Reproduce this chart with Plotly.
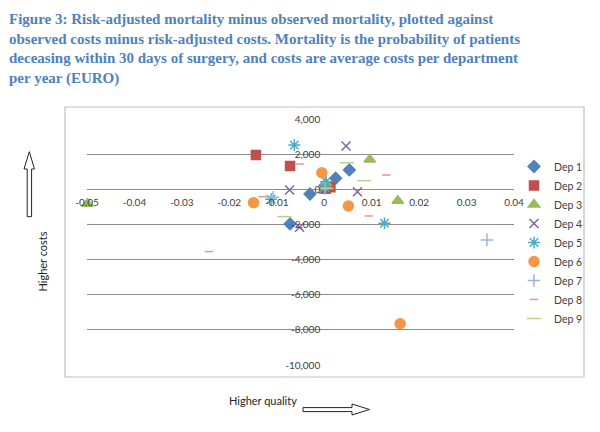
import plotly.graph_objects as go

# Risk-adjusted minus observed mortality (x) vs observed minus risk-adjusted costs (y)
departments = ["Dep 1", "Dep 2", "Dep 3", "Dep 4", "Dep 5", "Dep 6", "Dep 7", "Dep 8", "Dep 9"]

dep1_x = [0.0053, 0.0024, -0.0030, -0.0072, 0.0005]
dep1_y = [1100, 630, -270, -1970, 150]
dep2_x = [-0.0144, -0.0072, 0.0013, 0.0003]
dep2_y = [1950, 1320, 120, 30]
dep3_x = [-0.0499, 0.0096, 0.0155, 0.0003]
dep3_y = [-820, 1700, -650, 350]
dep4_x = [0.0046, 0.0070, -0.0073, -0.0052, -0.0002]
dep4_y = [2460, -140, -40, -2160, 20]
dep5_x = [-0.0063, -0.0112, 0.0127, 0.0004, 0.0001]
dep5_y = [2520, -570, -1930, 430, 100]
dep6_x = [-0.0149, -0.0005, 0.0051, 0.0160]
dep6_y = [-760, 940, -950, -7650]
dep7_x = [0.0343, -0.0108, 0.0002]
dep7_y = [-2880, -450, 50]
dep8_x = [-0.0243, -0.0052, -0.0130, 0.0131, 0.0094]
dep8_y = [-3545, 1440, -420, 810, -1520]
dep9_x = [0.0048, 0.0084, -0.0084, 0.0005]
dep9_y = [1510, 490, -1555, 50]

x_ticks = [-0.05, -0.04, -0.03, -0.02, -0.01, 0, 0.01, 0.02, 0.03, 0.04]
x_tick_text = ["-0.05", "-0.04", "-0.03", "-0.02", "-0.01", "0", "0.01", "0.02", "0.03", "0.04"]
y_ticks = [-10000, -8000, -6000, -4000, -2000, 0, 2000, 4000]
y_tick_text = ["-10,000", "-8,000", "-6,000", "-4,000", "-2,000", "0", "2,000", "4,000"]

xs = [dep1_x, dep2_x, dep3_x, dep4_x, dep5_x, dep6_x, dep7_x, dep8_x, dep9_x]
ys = [dep1_y, dep2_y, dep3_y, dep4_y, dep5_y, dep6_y, dep7_y, dep8_y, dep9_y]

colors = ["#4F81BD", "#C0504D", "#9BBB59", "#8064A2", "#4BACC6", "#F79646",
          "#9DB5DC", "#E09A98", "#B7D28A"]
symbols = ["diamond", "square", "triangle-up", "x-thin-open", "asterisk-open", "circle",
           "cross-thin-open", "line-ew-open", "line-ew-open"]
sizes = [9, 9, 10, 9, 10, 10, 9, 6, 10]

# the page body adds an 8px margin, so the figure is offset in the screenshot
OFF = 8
W, H = 600 - OFF, 432 - OFF
# plot area in screenshot pixels
L, R, T, B = 87, 514, 119, 365


def px(x):
    return (x - L) / (R - L)


def py(y):
    return (B - y) / (B - T)


fig = go.Figure()
for name, x, y, c, s, sz in zip(departments, xs, ys, colors, symbols, sizes):
    fig.add_trace(go.Scatter(
        x=x, y=y, mode="markers", name=name, cliponaxis=False,
        marker=dict(color=c, symbol=s, size=sz, line=dict(color=c, width=1.5)),
    ))

# chart border
fig.add_shape(type="rect", xref="paper", yref="paper",
              x0=px(65), x1=px(584), y0=py(107), y1=py(377),
              line=dict(color="#BFBFBF", width=1.2), layer="below")

# hollow arrow, up ("Higher costs")
up = [(29.3, 151.7), (34.5, 169), (31.6, 169), (31.6, 216.7), (27.2, 216.7), (27.2, 169), (24, 169)]
fig.add_shape(type="path", xref="paper", yref="paper",
              path="M " + " L ".join(f"{px(a)},{py(b)}" for a, b in up) + " Z",
              line=dict(color="#222", width=1), fillcolor="white")
# hollow arrow, right ("Higher quality")
right = [(303, 407.6), (352, 407.6), (352, 404), (369.5, 409.5), (352, 415), (352, 411.6), (303, 411.6)]
fig.add_shape(type="path", xref="paper", yref="paper",
              path="M " + " L ".join(f"{px(a)},{py(b)}" for a, b in right) + " Z",
              line=dict(color="#222", width=1), fillcolor="white")

title = ("Figure 3: Risk-adjusted mortality minus observed mortality, plotted against<br>"
         "observed costs minus risk-adjusted costs. Mortality is the probability of patients<br>"
         "deceasing within 30 days of surgery, and costs are average costs per department<br>"
         "per year (EURO)")
fig.add_annotation(text="<b>" + title + "</b>", xref="paper", yref="paper",
                   x=px(7), y=py(9), xanchor="left", yanchor="top", align="left",
                   showarrow=False,
                   font=dict(family="Liberation Serif", size=15, color="#4F81BD"))
fig.add_annotation(text="Higher costs", xref="paper", yref="paper",
                   x=px(33), y=py(262), textangle=-90, showarrow=False,
                   font=dict(family="Lato", size=11, color="#222"))
fig.add_annotation(text="Higher quality", xref="paper", yref="paper",
                   x=px(263), y=py(409), showarrow=False,
                   font=dict(family="Lato", size=11, color="#222"))

fig.update_layout(
    width=W, height=H,
    margin=dict(l=L - OFF, r=W - (R - OFF), t=T - OFF, b=H - (B - OFF)),
    paper_bgcolor="white", plot_bgcolor="white",
    showlegend=True,
    legend=dict(x=px(514), y=py(152), xanchor="left", yanchor="top",
                font=dict(family="Lato", size=10.5, color="#404040"),
                itemwidth=30, tracegroupgap=0, bgcolor="rgba(0,0,0,0)"),
    font=dict(family="Lato", size=10, color="#404040"),
)
fig.update_xaxes(range=[-0.05, 0.04], tickvals=x_ticks, ticktext=x_tick_text,
                 showgrid=False, zeroline=False, showline=False, ticks="",
                 anchor="free", position=(0 - -10000) / 14000,
                 ticklabelstandoff=6, tickfont=dict(size=10, color="#404040"))
fig.update_yaxes(range=[-10000, 4000], tickvals=y_ticks, ticktext=y_tick_text,
                 showgrid=True, gridcolor="#8C8C8C", gridwidth=1,
                 zeroline=False, showline=False, ticks="",
                 anchor="free", position=(0 - -0.05) / 0.09,
                 ticklabelstandoff=4, tickfont=dict(size=10, color="#404040"))

fig.write_html("out.html")
